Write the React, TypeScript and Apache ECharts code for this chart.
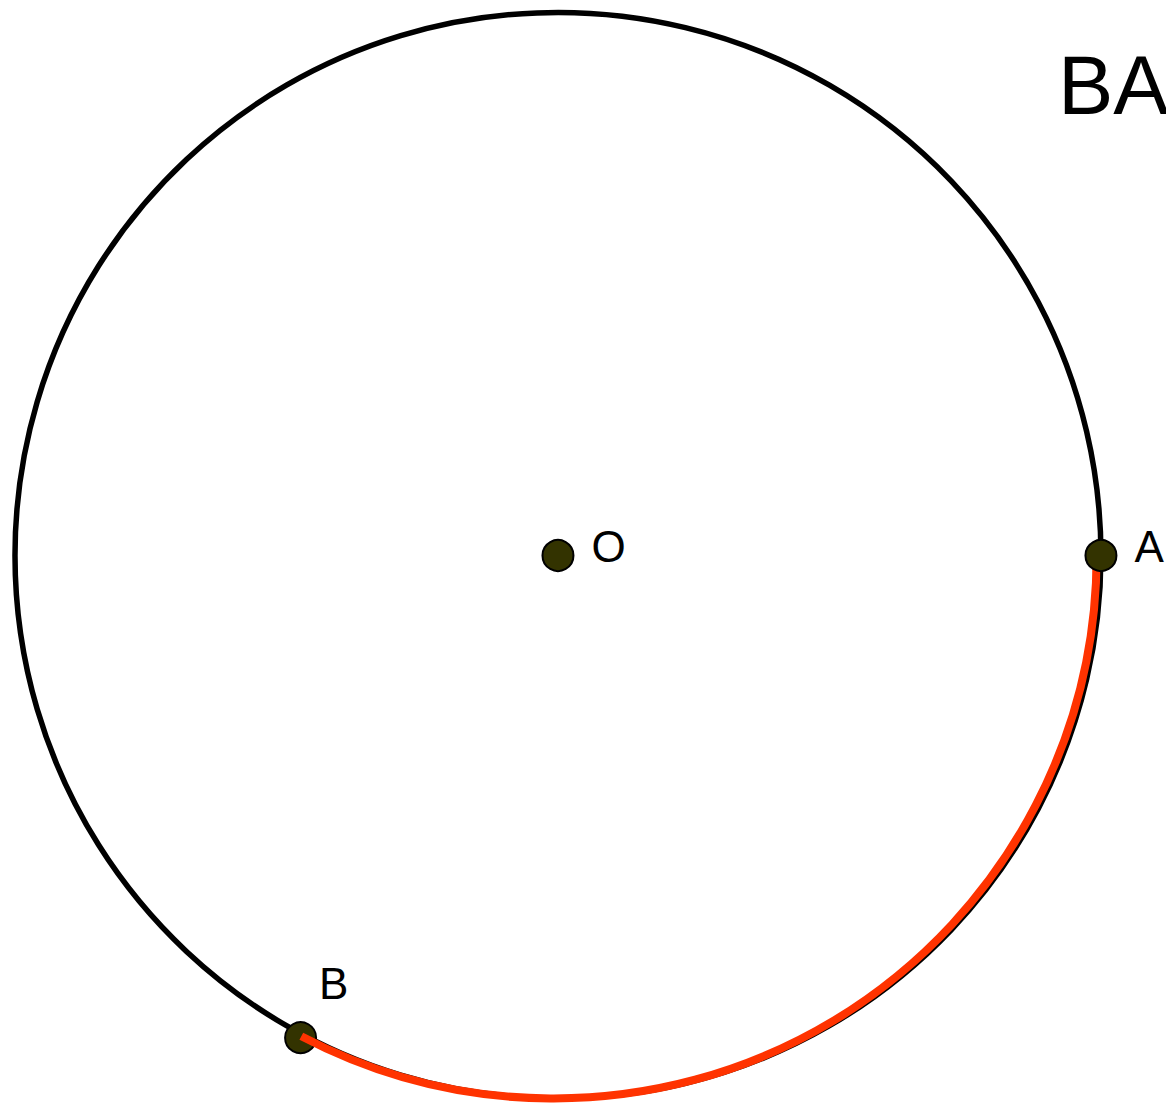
import React, { useEffect, useRef } from "react";
import * as echarts from "echarts";

// Geometry (in drawing units, origin at O, y up)
const circleCenter = [0, 0];
const circleRadius = 5;
const pointNames = ["O", "A", "B"];
const pointX = [0, 5, -2.37];
const pointY = [0, 0, -4.44];
const redArcCenter = [-0.04, 0];
const titleText = "BA";
const xRange = [-5.138, 5.599];
const yRange = [-5.106, 5.115];

const FONT = "Liberation Sans, Arial, sans-serif";

export default function App() {
  const ref = useRef<HTMLDivElement>(null);

  useEffect(() => {
    if (!ref.current) return;
    const chart = echarts.init(ref.current, undefined, { renderer: "svg" });

    const idx = (n: string) => pointNames.indexOf(n);
    const pt = (n: string) => [pointX[idx(n)], pointY[idx(n)]];
    const A = pt("A");
    const B = pt("B");

    const labelBase = {
      show: true,
      formatter: "{b}",
      color: "#000000",
      opacity: 1,
      fontSize: 44,
      fontFamily: FONT,
      textBorderWidth: 0,
    };
    const pointStyle = {
      color: "#333300",
      borderColor: "#000000",
      borderWidth: 2,
      opacity: 1,
    };

    chart.setOption({
      animation: false,
      backgroundColor: "#fff",
      grid: { left: 0, right: 0, top: 0, bottom: 0, containLabel: false },
      xAxis: { type: "value", min: xRange[0], max: xRange[1], show: false },
      yAxis: { type: "value", min: yRange[0], max: yRange[1], show: false },
      graphic: [
        {
          type: "text",
          left: 1058,
          top: 44,
          style: {
            text: titleText,
            fontSize: 83,
            fontFamily: FONT,
            fill: "#000",
          },
        },
      ],
      series: [
        {
          type: "custom",
          silent: true,
          z: 1,
          data: [[circleCenter[0], circleCenter[1], circleRadius]],
          encode: { x: 0, y: 1 },
          renderItem: (params: any, api: any) => {
            const c = api.coord([api.value(0), api.value(1)]);
            const r = api.size([api.value(2), 0])[0];
            return {
              type: "circle",
              shape: { cx: c[0], cy: c[1], r },
              style: { fill: "none", stroke: "#000", lineWidth: 5.5 },
            };
          },
        },
        {
          type: "scatter",
          z: 2,
          symbolSize: 31,
          itemStyle: pointStyle,
          emphasis: { disabled: true },
          data: [{ name: "B", value: B }],
          label: {
            ...labelBase,
            position: "right",
            distance: 2,
            offset: [0, -54],
          },
        },
        {
          type: "custom",
          silent: true,
          z: 3,
          data: [[redArcCenter[0], redArcCenter[1], circleRadius, A[0], A[1], B[0], B[1]]],
          encode: { x: 0, y: 1 },
          renderItem: (params: any, api: any) => {
            const c = api.coord([api.value(0), api.value(1)]);
            const r = api.size([api.value(2), 0])[0];
            const pa = api.coord([api.value(3), api.value(4)]);
            const pb = api.coord([api.value(5), api.value(6)]);
            const start = Math.atan2(pa[1] - c[1], pa[0] - c[0]);
            const end = Math.atan2(pb[1] - c[1], pb[0] - c[0]);
            return {
              type: "arc",
              shape: { cx: c[0], cy: c[1], r, startAngle: start, endAngle: end, clockwise: true },
              style: { fill: "none", stroke: "#ff3300", lineWidth: 8 },
            };
          },
        },
        {
          type: "scatter",
          z: 4,
          symbolSize: 31,
          itemStyle: pointStyle,
          emphasis: { disabled: true },
          data: [
            { name: "O", value: pt("O") },
            { name: "A", value: A },
          ],
          label: {
            ...labelBase,
            position: "right",
            distance: 17,
            offset: [0, -9],
          },
        },
      ],
    });

    return () => chart.dispose();
  }, []);

  return (
    <div
      ref={ref}
      style={{ position: "fixed", left: 0, top: 0, width: 1166, height: 1110, background: "#fff" }}
    />
  );
}
